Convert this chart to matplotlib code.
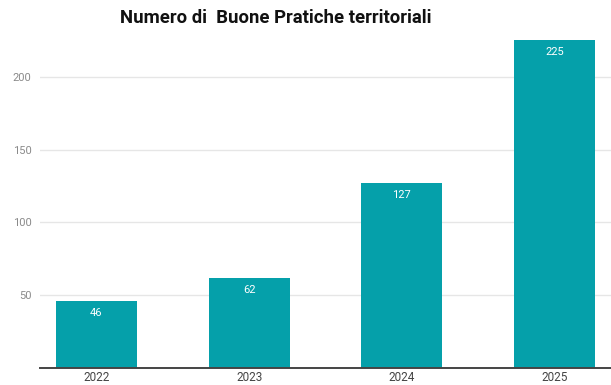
import matplotlib
matplotlib.use("Agg")
import matplotlib.pyplot as plt

years = ["2022", "2023", "2024", "2025"]
counts = [46, 62, 127, 225]
yticks = [50, 100, 150, 200]
title = "Numero di  Buone Pratiche territoriali"

plt.rcParams["font.family"] = ["Roboto", "DejaVu Sans"]

fig = plt.figure(figsize=(6.11, 3.85), dpi=100)
ax = fig.add_axes([40 / 611, 1 - 368 / 385, 1 - 40 / 611, 329 / 385])

x = list(range(len(years)))
bars = ax.bar(x, counts, width=0.53, color="#05A0AA", zorder=3)

for xi, v in zip(x, counts):
    ax.annotate(str(v), (xi, v), xytext=(0, -5), textcoords="offset points",
                ha="center", va="top", color="white", fontsize=8)

ax.set_xlim(-0.37, 3.37)
ax.set_ylim(0, 226)
ax.set_yticks(yticks)
ax.set_yticklabels([str(t) for t in yticks])
ax.set_xticks(x)
ax.set_xticklabels(years)
ax.tick_params(axis="y", length=0, colors="#8a8a8a", labelsize=8, pad=6)
ax.tick_params(axis="x", length=0, colors="#444444", labelsize=8.5, pad=2)
ax.grid(axis="y", color="#e6e6e6", linewidth=1, zorder=0)
for s in ["top", "right", "left"]:
    ax.spines[s].set_visible(False)
ax.spines["bottom"].set_color("#444444")
ax.spines["bottom"].set_linewidth(1.4)
ax.spines["bottom"].set_zorder(4)

fig.text(276 / 611, 1 - 18 / 385, title, ha="center", va="center",
         fontsize=13.3, fontweight="bold", color="#111111")

fig.savefig("out.png", dpi=100)
